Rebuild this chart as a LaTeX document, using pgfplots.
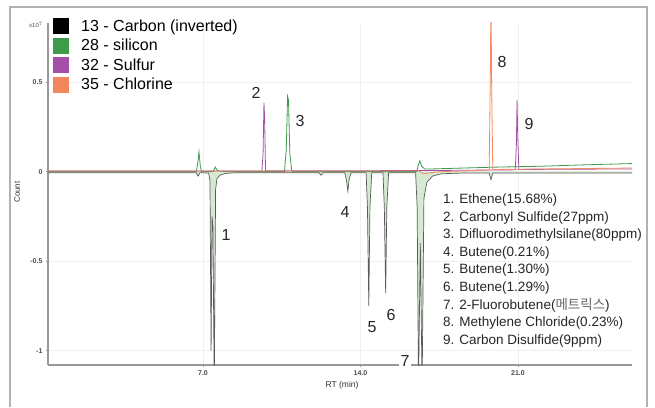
\documentclass[border=0pt]{standalone}
\usepackage{pgfplots}
\pgfplotsset{compat=1.18}
\usepackage{pgfplotstable}
\usepackage{fontspec}
\setmainfont{Liberation Sans}
\newfontfamily\cjk{Noto Sans CJK KR}
\definecolor{cC}{HTML}{5A5A5A}
\definecolor{cCfill}{HTML}{D6EAD3}
\definecolor{cSi}{HTML}{3D9B4A}
\definecolor{cS}{HTML}{A64FA8}
\definecolor{cCl}{HTML}{F38A5F}
\definecolor{cLegO}{HTML}{F2875E}

\pgfplotstableread{
x y
0.11 -0.006
6.70 -0.006
6.78 -0.025
6.86 -0.006
7.25 -0.008
7.31 -0.05
7.36 -1.0
7.40 -0.25
7.44 -0.3
7.50 -1.2
7.56 -0.1
7.62 -0.04
7.75 -0.02
8.0 -0.01
8.5 -0.006
12.15 -0.006
12.25 -0.02
12.35 -0.006
13.30 -0.006
13.38 -0.05
13.44 -0.11
13.50 -0.04
13.58 -0.006
14.25 -0.006
14.31 -0.2
14.37 -0.75
14.42 -0.2
14.50 -0.006
15.00 -0.006
15.06 -0.2
15.12 -0.68
15.17 -0.2
15.25 -0.006
16.45 -0.006
16.52 -0.2
16.58 -1.2
16.66 -0.4
16.74 -1.2
16.82 -0.15
16.95 -0.06
17.2 -0.025
17.6 -0.012
18.5 -0.008
19.72 -0.008
19.80 -0.045
19.88 -0.008
26.07 -0.008
}\carbon

\pgfplotstableread{
x y
0.11 0.0
6.70 0.0
6.76 0.04
6.82 0.11
6.88 0.03
6.94 0.0
7.45 0.0
7.55 0.025
7.65 0.005
8.0 0.0
10.62 0.0
10.70 0.12
10.76 0.42
10.80 0.40
10.86 0.1
10.95 0.0
16.50 0.0
16.58 0.04
16.64 0.06
16.72 0.03
16.85 0.015
17.2 0.015
18.0 0.018
20.0 0.025
22.0 0.03
24.0 0.038
26.07 0.045
}\silicon

\pgfplotstableread{
x y
0.11 0.004
9.62 0.004
9.67 0.1
9.71 0.385
9.74 0.3
9.78 0.004
17.0 0.006
20.88 0.01
20.93 0.15
20.96 0.40
20.99 0.2
21.04 0.012
26.07 0.015
}\sulfur

\pgfplotstableread{
x y
0.11 0.003
16.6 0.003
16.8 -0.012
17.2 -0.005
17.6 0.0
19.72 0.008
19.77 0.5
19.80 1.0
19.83 0.5
19.88 0.012
26.07 0.02
}\chlorine

\begin{document}
\begin{tikzpicture}[x=1pt,y=1pt]
\useasboundingbox (0,0) rectangle (655,407);
\fill[white] (0,0) rectangle (655,407);
\draw[black!30, line width=1.2pt] (10,0) -- (10,400) -- (647,400) -- (647,0);
\begin{axis}[
  at={(48pt,42pt)}, anchor=south west,
  scale only axis, width=584pt, height=342pt,
  xmin=0.11, xmax=26.07, ymin=-1.08, ymax=0.83,
  axis x line*=bottom, axis y line*=left,
  axis line style={draw=black!40, line width=1.5pt, -},
  xtick={7,14,21}, xticklabels={7.0,14.0,21.0},
  ytick={-1,-0.5,0,0.5}, yticklabels={-1,-0.5,0,0.5},
  tick align=outside, major tick length=2pt,
  tick style={black!40, line width=0.6pt},
  ticklabel style={font=\fontsize{7}{7}\selectfont\bfseries, text=black!70},
  grid=major, major grid style={draw=black!6, line width=0.6pt},
  legend image code/.code={\path[#1] (0pt,-8pt) rectangle (16pt,8pt);},
  legend style={at={(0.0086,1.015)}, anchor=north west, draw=none, fill=none,
    inner sep=0pt, row sep=3.5pt, column sep=12pt,
    nodes={inner sep=0pt},
    font=\fontsize{16}{16}\selectfont},
  legend cell align=left,
]
\addplot[draw=none, fill=cCfill, forget plot] table {\carbon} \closedcycle;
\addplot[cC, line width=0.7pt, forget plot] table {\carbon};
\addplot[cSi, line width=0.8pt, forget plot] table {\silicon};
\addplot[cS, line width=0.8pt, forget plot] table {\sulfur};
\addplot[cCl, line width=0.8pt, forget plot] table {\chlorine};
\addlegendimage{fill=black, draw=none}
\addlegendentry{13 - Carbon (inverted)}
\addlegendimage{fill=cSi, draw=none}
\addlegendentry{28 - silicon}
\addlegendimage{fill=cS, draw=none}
\addlegendentry{32 - Sulfur}
\addlegendimage{fill=cLegO, draw=none}
\addlegendentry{35 - Chlorine}
\end{axis}
\node[font=\fontsize{6}{6}\selectfont, text=black!70] at (36,382) {x10$^7$};
\node[rotate=90, font=\fontsize{8}{8}\selectfont, text=black!80] at (17,215) {Count};
\node[font=\fontsize{8.5}{8.5}\selectfont, text=black!80] at (342,22) {RT (min)};
\begin{scope}[every node/.style={font=\fontsize{16}{16}\selectfont, text=black!85, inner sep=1pt}]
\node at (226,172) {1};
\node at (256,314) {2};
\node at (300,286) {3};
\node at (345,195) {4};
\node at (372,80) {5};
\node at (391,92) {6};
\node[fill=white, inner sep=2pt] at (405,46) {7};
\node at (502,345) {8};
\node at (529,283) {9};
\end{scope}
\begin{scope}[every node/.style={font=\fontsize{13.5}{13.5}\selectfont, text=black!85, anchor=base west, inner sep=0pt}]
\node at (443,407-203.5) {1. Ethene(15.68\%)};
\node at (443,407-221.1) {2. Carbonyl Sulfide(27ppm)};
\node at (443,407-238.7) {3. Difluorodimethylsilane(80ppm)};
\node at (443,407-256.3) {4. Butene(0.21\%)};
\node at (443,407-273.9) {5. Butene(1.30\%)};
\node at (443,407-291.5) {6. Butene(1.29\%)};
\node at (443,407-309.1) {7. 2-Fluorobutene({\cjk\color{black!60}메트릭스})};
\node at (443,407-326.7) {8. Methylene Chloride(0.23\%)};
\node at (443,407-344.3) {9. Carbon Disulfide(9ppm)};
\end{scope}
\end{tikzpicture}
\end{document}
